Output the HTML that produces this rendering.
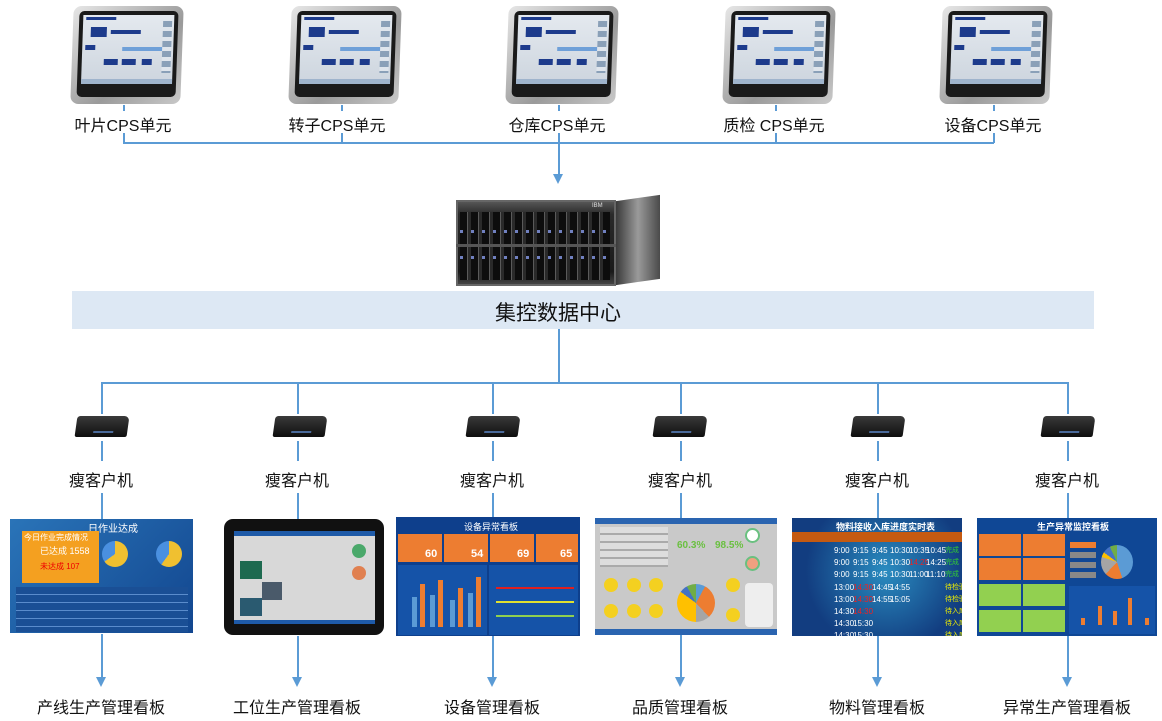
<!DOCTYPE html>
<html><head><meta charset="utf-8"><style>
*{margin:0;padding:0;box-sizing:border-box}
body{width:1162px;height:721px;background:#fff;position:relative;overflow:hidden;font-family:"Liberation Sans","Noto Sans CJK SC",sans-serif;color:#111}
.a{position:absolute}
.v{position:absolute;width:1.5px;background:#5b9bd5}
.h{position:absolute;height:1.5px;background:#5b9bd5}
.arr{position:absolute;width:0;height:0;border-left:5px solid transparent;border-right:5px solid transparent;border-top:10px solid #5b9bd5}
.lbl{position:absolute;font-size:16px;text-align:center;width:160px;white-space:nowrap}
.mon{position:absolute;width:110px;height:98px;border-radius:8px;background:linear-gradient(135deg,#e6e6e6,#9a9a9a 60%,#c8c8c8);transform:skewX(-2deg)}
.mon .bz{position:absolute;left:6px;top:5px;right:5px;bottom:7px;background:#1a1a1a;border-radius:5px}
.mon .sc{position:absolute;left:10px;top:9px;right:9px;bottom:20px;background:linear-gradient(#e4e9ef,#cdd5de);overflow:hidden}
.mon .sc i{position:absolute;background:#1d3b8c;height:6px}
.mon .sc b{position:absolute;right:2px;top:6px;width:9px;height:52px;background:repeating-linear-gradient(#8aa0b8 0 6px,#dfe5ec 6px 10px)}
.mon .sc u{position:absolute;left:0;right:0;bottom:0;height:5px;background:#9fb4cc}
.tc{position:absolute;width:52px;height:21px;background:linear-gradient(#3a3a3a,#0e0e0e);border-radius:3px 5px 2px 2px;transform:skewX(-8deg)}
.tc:after{content:"";position:absolute;left:18px;bottom:4px;width:20px;height:2px;background:#4a6a9a}
.dash{position:absolute;background:linear-gradient(135deg,#1e5aa8,#0d3a82);overflow:hidden}
.blk{position:absolute}
.t{position:absolute;color:#fff;font-size:9px;white-space:nowrap}
</style></head><body>

<!-- top monitors -->
<div class="mon" style="left:72px;top:6px"><div class="bz"></div><div class="sc"><i style="left:3px;top:2px;width:30px;height:3px"></i><i style="left:8px;top:12px;width:16px;height:10px"></i><i style="left:28px;top:15px;width:30px;height:4px"></i><i style="left:3px;top:30px;width:10px;height:5px"></i><i style="left:40px;top:32px;width:40px;height:4px;background:#6fa0d8"></i><i style="left:22px;top:44px;width:14px"></i><i style="left:40px;top:44px;width:14px"></i><i style="left:60px;top:44px;width:10px"></i><b></b><u></u></div></div>
<div class="mon" style="left:290px;top:6px"><div class="bz"></div><div class="sc"><i style="left:3px;top:2px;width:30px;height:3px"></i><i style="left:8px;top:12px;width:16px;height:10px"></i><i style="left:28px;top:15px;width:30px;height:4px"></i><i style="left:3px;top:30px;width:10px;height:5px"></i><i style="left:40px;top:32px;width:40px;height:4px;background:#6fa0d8"></i><i style="left:22px;top:44px;width:14px"></i><i style="left:40px;top:44px;width:14px"></i><i style="left:60px;top:44px;width:10px"></i><b></b><u></u></div></div>
<div class="mon" style="left:507px;top:6px"><div class="bz"></div><div class="sc"><i style="left:3px;top:2px;width:30px;height:3px"></i><i style="left:8px;top:12px;width:16px;height:10px"></i><i style="left:28px;top:15px;width:30px;height:4px"></i><i style="left:3px;top:30px;width:10px;height:5px"></i><i style="left:40px;top:32px;width:40px;height:4px;background:#6fa0d8"></i><i style="left:22px;top:44px;width:14px"></i><i style="left:40px;top:44px;width:14px"></i><i style="left:60px;top:44px;width:10px"></i><b></b><u></u></div></div>
<div class="mon" style="left:724px;top:6px"><div class="bz"></div><div class="sc"><i style="left:3px;top:2px;width:30px;height:3px"></i><i style="left:8px;top:12px;width:16px;height:10px"></i><i style="left:28px;top:15px;width:30px;height:4px"></i><i style="left:3px;top:30px;width:10px;height:5px"></i><i style="left:40px;top:32px;width:40px;height:4px;background:#6fa0d8"></i><i style="left:22px;top:44px;width:14px"></i><i style="left:40px;top:44px;width:14px"></i><i style="left:60px;top:44px;width:10px"></i><b></b><u></u></div></div>
<div class="mon" style="left:941px;top:6px"><div class="bz"></div><div class="sc"><i style="left:3px;top:2px;width:30px;height:3px"></i><i style="left:8px;top:12px;width:16px;height:10px"></i><i style="left:28px;top:15px;width:30px;height:4px"></i><i style="left:3px;top:30px;width:10px;height:5px"></i><i style="left:40px;top:32px;width:40px;height:4px;background:#6fa0d8"></i><i style="left:22px;top:44px;width:14px"></i><i style="left:40px;top:44px;width:14px"></i><i style="left:60px;top:44px;width:10px"></i><b></b><u></u></div></div>

<div class="v" style="left:123px;top:105px;height:6px"></div>
<div class="v" style="left:341px;top:105px;height:6px"></div>
<div class="v" style="left:558px;top:105px;height:6px"></div>
<div class="v" style="left:775px;top:105px;height:6px"></div>
<div class="v" style="left:993px;top:105px;height:6px"></div>

<div class="lbl" style="left:43px;top:112px">叶片CPS单元</div>
<div class="lbl" style="left:257px;top:112px">转子CPS单元</div>
<div class="lbl" style="left:477px;top:112px">仓库CPS单元</div>
<div class="lbl" style="left:694px;top:112px">质检 CPS单元</div>
<div class="lbl" style="left:913px;top:112px">设备CPS单元</div>

<div class="v" style="left:123px;top:133px;height:10px"></div>
<div class="v" style="left:341px;top:133px;height:10px"></div>
<div class="v" style="left:775px;top:133px;height:10px"></div>
<div class="v" style="left:993px;top:133px;height:10px"></div>
<div class="h" style="left:123px;top:142px;width:871px"></div>
<div class="v" style="left:558px;top:133px;height:42px"></div>
<div class="arr" style="left:553px;top:174px"></div>

<!-- server -->
<div class="a" style="left:456px;top:200px;width:204px;height:86px">
 <div class="a" style="left:0;top:0;width:160px;height:86px;background:linear-gradient(#555,#2a2a2a 15%,#1a1a1a 85%,#444);border:2px solid #666"></div>
 <div class="a" style="left:4px;top:12px;width:150px;height:68px;background:repeating-linear-gradient(90deg,#0d0d0d 0 7px,#5a5a5a 7px 8px,#2a2a2a 8px 11px)"></div>
 <div class="a" style="left:4px;top:30px;width:150px;height:3px;background:repeating-linear-gradient(90deg,#7080c0 0 3px,transparent 3px 11px)"></div>
 <div class="a" style="left:4px;top:56px;width:150px;height:3px;background:repeating-linear-gradient(90deg,#7080c0 0 3px,transparent 3px 11px)"></div>
 <div class="a" style="left:0;top:44px;width:160px;height:3px;background:#555"></div>
 <div class="a" style="left:136px;top:3px;font-size:6px;color:#ddd">IBM</div>
 <div class="a" style="left:160px;top:-2px;width:44px;height:84px;background:linear-gradient(90deg,#3a3a3a,#9a9a9a 50%,#4a4a4a);transform:skewY(-8deg)"></div>
</div>

<!-- band -->
<div class="a" style="left:72px;top:291px;width:1022px;height:38px;background:#dde8f4"></div>
<div class="a" style="left:458px;top:297px;width:200px;text-align:center;font-size:21px">集控数据中心</div>
<div class="v" style="left:558px;top:329px;height:54px"></div>
<div class="h" style="left:101px;top:382px;width:967px"></div>

<!-- thin clients -->
<div class="v" style="left:101px;top:382px;height:32px"></div>
<div class="v" style="left:297px;top:382px;height:32px"></div>
<div class="v" style="left:492px;top:382px;height:32px"></div>
<div class="v" style="left:680px;top:382px;height:32px"></div>
<div class="v" style="left:877px;top:382px;height:32px"></div>
<div class="v" style="left:1067px;top:382px;height:32px"></div>

<div class="tc" style="left:76px;top:416px"></div>
<div class="tc" style="left:274px;top:416px"></div>
<div class="tc" style="left:467px;top:416px"></div>
<div class="tc" style="left:654px;top:416px"></div>
<div class="tc" style="left:852px;top:416px"></div>
<div class="tc" style="left:1042px;top:416px"></div>

<div class="v" style="left:101px;top:441px;height:20px"></div>
<div class="v" style="left:297px;top:441px;height:20px"></div>
<div class="v" style="left:492px;top:441px;height:20px"></div>
<div class="v" style="left:680px;top:441px;height:20px"></div>
<div class="v" style="left:877px;top:441px;height:20px"></div>
<div class="v" style="left:1067px;top:441px;height:20px"></div>

<div class="lbl" style="left:21px;top:467px">瘦客户机</div>
<div class="lbl" style="left:217px;top:467px">瘦客户机</div>
<div class="lbl" style="left:412px;top:467px">瘦客户机</div>
<div class="lbl" style="left:600px;top:467px">瘦客户机</div>
<div class="lbl" style="left:797px;top:467px">瘦客户机</div>
<div class="lbl" style="left:987px;top:467px">瘦客户机</div>

<div class="v" style="left:101px;top:493px;height:26px"></div>
<div class="v" style="left:297px;top:493px;height:26px"></div>
<div class="v" style="left:492px;top:493px;height:26px"></div>
<div class="v" style="left:680px;top:493px;height:26px"></div>
<div class="v" style="left:877px;top:493px;height:26px"></div>
<div class="v" style="left:1067px;top:493px;height:26px"></div>

<!-- dashboards -->
<div class="dash" style="left:10px;top:519px;width:183px;height:114px;background:linear-gradient(135deg,#2a74b8,#12468f)">
 <div class="t" style="left:78px;top:1px;font-size:10px">日作业达成</div>
 <div class="blk" style="left:12px;top:12px;width:77px;height:52px;background:#f4a020"></div>
 <div class="t" style="left:14px;top:13px;font-size:8px">今日作业完成情况</div>
 <div class="t" style="left:30px;top:25px;font-size:9px">已达成 1558</div>
 <div class="t" style="left:30px;top:42px;font-size:8px;color:#e00">未达成 107</div>
 <div class="blk" style="left:92px;top:22px;width:26px;height:26px;border-radius:50%;background:conic-gradient(#f0c030 0 65%,#4a90e0 65%)"></div>
 <div class="blk" style="left:146px;top:22px;width:26px;height:26px;border-radius:50%;background:conic-gradient(#f0c030 0 60%,#4a90e0 60%)"></div>
 <div class="blk" style="left:6px;top:68px;width:172px;height:45px;background:repeating-linear-gradient(#1a4f95 0 7px,#5a8ccc 7px 8px)"></div>
</div>

<div class="a" style="left:224px;top:519px;width:160px;height:116px;background:#111;border-radius:9px">
 <div class="a" style="left:10px;top:12px;width:141px;height:93px;background:#d8d8d8;border-top:5px solid #1e5aa8;border-bottom:4px solid #1e5aa8">
  <div class="a" style="left:6px;top:25px;width:22px;height:18px;background:#1e6a50"></div>
  <div class="a" style="left:6px;top:62px;width:22px;height:18px;background:#2a5a70"></div>
  <div class="a" style="left:28px;top:46px;width:20px;height:18px;background:#4a5a6a"></div>
  <div class="a" style="left:118px;top:8px;width:14px;height:14px;border-radius:50%;background:#4aa86a"></div>
  <div class="a" style="left:118px;top:30px;width:14px;height:14px;border-radius:50%;background:#e08050"></div>
 </div>
</div>

<div class="dash" style="left:396px;top:517px;width:184px;height:119px;background:#0e3f8c">
 <div class="t" style="left:68px;top:3px;font-size:9px">设备异常看板</div>
 <div class="blk" style="left:2px;top:17px;width:44px;height:28px;background:#ed7d31"></div>
 <div class="blk" style="left:48px;top:17px;width:44px;height:28px;background:#ed7d31"></div>
 <div class="blk" style="left:94px;top:17px;width:44px;height:28px;background:#ed7d31"></div>
 <div class="blk" style="left:140px;top:17px;width:42px;height:28px;background:#ed7d31"></div>
 <div class="t" style="left:29px;top:31px;font-size:11px;font-weight:bold">60</div>
 <div class="t" style="left:75px;top:31px;font-size:11px;font-weight:bold">54</div>
 <div class="t" style="left:121px;top:31px;font-size:11px;font-weight:bold">69</div>
 <div class="t" style="left:164px;top:31px;font-size:11px;font-weight:bold">65</div>
 <div class="blk" style="left:2px;top:48px;width:89px;height:70px;background:#1553a8"></div>
 <div class="blk" style="left:93px;top:48px;width:89px;height:70px;background:#1553a8"></div>
 <div class="blk" style="left:16px;top:80px;width:5px;height:30px;background:#5b9bd5"></div>
 <div class="blk" style="left:24px;top:67px;width:5px;height:43px;background:#ed7d31"></div>
 <div class="blk" style="left:34px;top:78px;width:5px;height:32px;background:#5b9bd5"></div>
 <div class="blk" style="left:42px;top:63px;width:5px;height:47px;background:#ed7d31"></div>
 <div class="blk" style="left:54px;top:83px;width:5px;height:27px;background:#5b9bd5"></div>
 <div class="blk" style="left:62px;top:71px;width:5px;height:39px;background:#ed7d31"></div>
 <div class="blk" style="left:72px;top:76px;width:5px;height:34px;background:#5b9bd5"></div>
 <div class="blk" style="left:80px;top:60px;width:5px;height:50px;background:#ed7d31"></div>
 <div class="blk" style="left:100px;top:70px;width:78px;height:2px;background:#e02020"></div>
 <div class="blk" style="left:100px;top:84px;width:78px;height:2px;background:#e0e030"></div>
 <div class="blk" style="left:100px;top:98px;width:78px;height:2px;background:#8fd050"></div>
</div>

<div class="dash" style="left:595px;top:518px;width:182px;height:117px;background:#c9c9c9">
 <div class="blk" style="left:0;top:0;width:182px;height:6px;background:#2a64b0"></div>
 <div class="blk" style="left:0;top:111px;width:182px;height:6px;background:#2a64b0"></div>
 <div class="blk" style="left:5px;top:9px;width:68px;height:40px;background:repeating-linear-gradient(#ddd 0 6px,#aaa 6px 8px)"></div>
 <div class="t" style="left:82px;top:22px;font-size:10px;color:#6ac040;font-weight:bold">60.3%</div>
 <div class="t" style="left:120px;top:22px;font-size:10px;color:#6ac040;font-weight:bold">98.5%</div>
 <div class="blk" style="left:150px;top:10px;width:15px;height:15px;border-radius:50%;background:#fff;border:2px solid #6ac080"></div>
 <div class="blk" style="left:150px;top:38px;width:15px;height:15px;border-radius:50%;background:#f0a080;border:2px solid #6ac080"></div>
 <div class="blk" style="left:9px;top:60px;width:14px;height:14px;border-radius:50%;background:#f4d020"></div>
 <div class="blk" style="left:32px;top:60px;width:14px;height:14px;border-radius:50%;background:#f4d020"></div>
 <div class="blk" style="left:54px;top:60px;width:14px;height:14px;border-radius:50%;background:#f4d020"></div>
 <div class="blk" style="left:9px;top:86px;width:14px;height:14px;border-radius:50%;background:#f4d020"></div>
 <div class="blk" style="left:32px;top:86px;width:14px;height:14px;border-radius:50%;background:#f4d020"></div>
 <div class="blk" style="left:54px;top:86px;width:14px;height:14px;border-radius:50%;background:#f4d020"></div>
 <div class="blk" style="left:82px;top:66px;width:38px;height:38px;border-radius:50%;background:conic-gradient(#5b9bd5 0 8%,#ed7d31 8% 38%,#a5a5a5 38% 50%,#ffc000 50% 85%,#4472c4 85% 92%,#70ad47 92%)"></div>
 <div class="blk" style="left:131px;top:60px;width:14px;height:14px;border-radius:50%;background:#f4d020"></div>
 <div class="blk" style="left:131px;top:90px;width:14px;height:14px;border-radius:50%;background:#f4d020"></div>
 <div class="blk" style="left:150px;top:65px;width:28px;height:44px;background:#eee;border-radius:4px"></div>
</div>

<div class="dash" style="left:792px;top:518px;width:170px;height:118px;background:radial-gradient(circle at 55% 45%,#2a8cc0,#123d80 70%)">
 <div class="t" style="left:44px;top:2px;font-size:9px;font-weight:bold">物料接收入库进度实时表</div>
 <div class="blk" style="left:0;top:14px;width:170px;height:10px;background:#c55a11"></div>
 <div class="t" style="left:42px;top:27px;line-height:12.2px;font-size:8px">9:00<br>9:00<br>9:00<br>13:00<br>13:00<br>14:30<br>14:30<br>14:30<br>16:00</div>
 <div class="t" style="left:61px;top:27px;line-height:12.2px;font-size:8px">9:15<br>9:15<br>9:15<br><span style="color:#e22">14:30</span><br><span style="color:#e22">14:30</span><br><span style="color:#e22">14:30</span><br>15:30<br>15:30<br>16:20</div>
 <div class="t" style="left:80px;top:27px;line-height:12.2px;font-size:8px">9:45<br>9:45<br>9:45<br>14:45<br>14:55</div>
 <div class="t" style="left:98px;top:27px;line-height:12.2px;font-size:8px">10:30<br>10:30<br>10:30<br>14:55<br>15:05</div>
 <div class="t" style="left:117px;top:27px;line-height:12.2px;font-size:8px">10:35<br><span style="color:#e22">14:25</span><br>11:00</div>
 <div class="t" style="left:134px;top:27px;line-height:12.2px;font-size:8px">10:45<br>14:25<br>11:10</div>
 <div class="t" style="left:153px;top:27px;line-height:12.2px;font-size:7px;color:#ee0"><span style="color:#3c3">完成</span><br><span style="color:#3c3">完成</span><br><span style="color:#3c3">完成</span><br>待检验<br>待检验<br>待入库<br>待入库<br>待入库<br>待入库</div>
</div>

<div class="dash" style="left:977px;top:518px;width:180px;height:118px;background:#0f4795">
 <div class="t" style="left:60px;top:2px;font-size:9px;font-weight:bold">生产异常监控看板</div>
 <div class="blk" style="left:2px;top:16px;width:42px;height:22px;background:#ed7d31"></div>
 <div class="blk" style="left:46px;top:16px;width:42px;height:22px;background:#ed7d31"></div>
 <div class="blk" style="left:2px;top:40px;width:42px;height:22px;background:#ed7d31"></div>
 <div class="blk" style="left:46px;top:40px;width:42px;height:22px;background:#ed7d31"></div>
 <div class="blk" style="left:2px;top:66px;width:42px;height:22px;background:#92d050"></div>
 <div class="blk" style="left:46px;top:66px;width:42px;height:22px;background:#92d050"></div>
 <div class="blk" style="left:2px;top:92px;width:42px;height:22px;background:#92d050"></div>
 <div class="blk" style="left:46px;top:92px;width:42px;height:22px;background:#92d050"></div>
 <div class="blk" style="left:93px;top:24px;width:26px;height:6px;background:#ed7d31"></div>
 <div class="blk" style="left:93px;top:34px;width:26px;height:6px;background:#888"></div>
 <div class="blk" style="left:93px;top:44px;width:26px;height:6px;background:#888"></div>
 <div class="blk" style="left:93px;top:54px;width:26px;height:6px;background:#888"></div>
 <div class="blk" style="left:124px;top:27px;width:32px;height:34px;border-radius:50%;background:conic-gradient(#5b9bd5 0 45%,#ed7d31 45% 62%,#a5a5a5 62% 80%,#ffc000 80% 85%,#4472c4 85% 93%,#70ad47 93%)"></div>
 <div class="blk" style="left:92px;top:68px;width:86px;height:48px;background:#1553a8"></div>
 <div class="blk" style="left:104px;top:100px;width:4px;height:7px;background:#ed7d31"></div>
 <div class="blk" style="left:121px;top:88px;width:4px;height:19px;background:#ed7d31"></div>
 <div class="blk" style="left:136px;top:93px;width:4px;height:14px;background:#ed7d31"></div>
 <div class="blk" style="left:151px;top:80px;width:4px;height:27px;background:#ed7d31"></div>
 <div class="blk" style="left:168px;top:100px;width:4px;height:7px;background:#ed7d31"></div>
</div>

<!-- bottom arrows -->
<div class="v" style="left:101px;top:634px;height:44px"></div>
<div class="v" style="left:297px;top:636px;height:42px"></div>
<div class="v" style="left:492px;top:636px;height:42px"></div>
<div class="v" style="left:680px;top:635px;height:43px"></div>
<div class="v" style="left:877px;top:636px;height:42px"></div>
<div class="v" style="left:1067px;top:636px;height:42px"></div>
<div class="arr" style="left:96px;top:677px"></div>
<div class="arr" style="left:292px;top:677px"></div>
<div class="arr" style="left:487px;top:677px"></div>
<div class="arr" style="left:675px;top:677px"></div>
<div class="arr" style="left:872px;top:677px"></div>
<div class="arr" style="left:1062px;top:677px"></div>

<div class="lbl" style="left:21px;top:694px">产线生产管理看板</div>
<div class="lbl" style="left:217px;top:694px">工位生产管理看板</div>
<div class="lbl" style="left:412px;top:694px">设备管理看板</div>
<div class="lbl" style="left:600px;top:694px">品质管理看板</div>
<div class="lbl" style="left:797px;top:694px">物料管理看板</div>
<div class="lbl" style="left:987px;top:694px">异常生产管理看板</div>
</body></html>
